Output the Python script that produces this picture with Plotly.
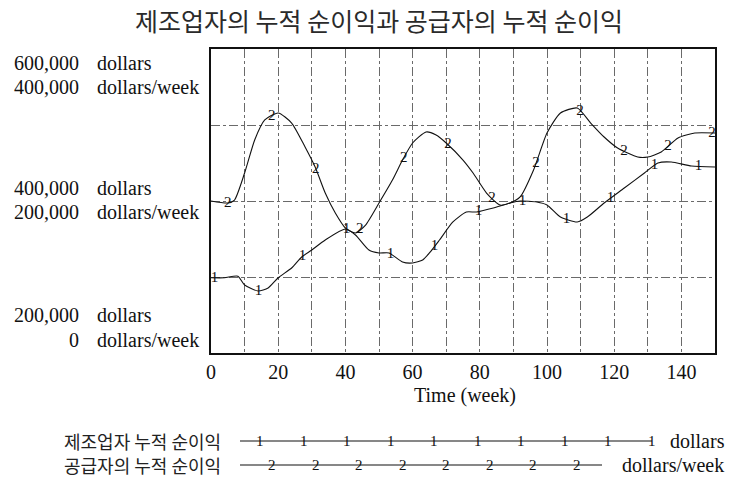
import numpy as np
import plotly.graph_objects as go

# ---------------- data ----------------
weeks_mfr = [0, 4, 8, 10, 14, 17, 20, 24, 27, 30, 34, 40, 43, 47, 50, 53, 57, 60, 63, 65,
             68, 72, 76, 79, 84, 89, 92, 97, 100, 104, 109, 112, 117, 123, 129, 133, 137, 143, 150]
mfr_profit = [299000, 299000, 301000, 289500, 281600, 285500, 299000, 311800, 326300, 335500,
              348700, 363200, 355300, 335500, 331600, 331600, 319700, 318400, 322400, 331600,
              348700, 372400, 385500, 385500, 390800, 397400, 400000, 398700, 394700, 378900,
              372400, 378900, 397400, 417100, 436800, 450000, 451300, 446000, 444700]

weeks_sup = [0, 5, 7, 10, 13, 16, 20, 24, 28, 31, 34, 37, 40, 43, 46, 50, 54, 57, 60, 64, 67,
             70, 75, 78, 82, 86, 89, 92, 96, 100, 104, 109, 113, 117, 121, 127, 130, 134, 139, 144, 150]
sup_profit = [200000, 197400, 201300, 236800, 280300, 306600, 315800, 302600, 271100, 244700,
              210500, 184200, 164500, 157900, 168400, 197400, 227600, 253900, 276300, 290800,
              286800, 276300, 253900, 236800, 210500, 194700, 197400, 205300, 240800, 289500,
              315800, 322400, 302600, 284200, 269700, 257900, 257900, 264500, 282900, 289500, 289500]

x_ticks = [0, 20, 40, 60, 80, 100, 120, 140]
title_text = "제조업자의 누적 순이익과 공급자의 누적 순이익"
x_title = "Time (week)"
series_names = ["제조업자 누적 순이익", "공급자의 누적 순이익"]
series_units = ["dollars", "dollars/week"]
y1_range = [200000, 600000]
y2_range = [0, 400000]
# axis labels: (value on axis 1, label 1, value on axis 2, label 2)
y_labels = [(600000, "600,000", 400000, "400,000"),
            (400000, "400,000", 200000, "200,000"),
            (200000, "200,000", 0, "0")]

# ---------------- layout geometry ----------------
FIG_W, FIG_H = 733, 480
L, R, T, B = 211, 715, 49, 353
PW, PH = R - L, B - T

def px(xp):
    return (xp - L) / PW

def py(yp):
    return (B - yp) / PH

SERIF = "Liberation Serif, Times New Roman, serif"
KR = "Noto Sans CJK KR, sans-serif"
INK = "#111111"

fig = go.Figure()

fig.add_trace(go.Scatter(x=weeks_mfr, y=mfr_profit, mode="lines",
                         line=dict(color=INK, width=1.1, shape="spline", smoothing=0.6),
                         yaxis="y", showlegend=False, hoverinfo="skip"))
fig.add_trace(go.Scatter(x=weeks_sup, y=sup_profit, mode="lines",
                         line=dict(color=INK, width=1.1, shape="spline", smoothing=0.6),
                         yaxis="y2", showlegend=False, hoverinfo="skip"))

# number markers along the lines (Vensim style)
m1 = np.arange(1, 150, 13.1)
m2 = np.arange(5, 150, 13.1)
fig.add_trace(go.Scatter(x=m1, y=np.interp(m1, weeks_mfr, mfr_profit), mode="text",
                         text=["1"] * len(m1), textposition="middle center",
                         textfont=dict(family=SERIF, size=15, color=INK),
                         yaxis="y", showlegend=False, hoverinfo="skip"))
fig.add_trace(go.Scatter(x=m2, y=np.interp(m2, weeks_sup, sup_profit), mode="text",
                         text=["2"] * len(m2), textposition="middle center",
                         textfont=dict(family=SERIF, size=15, color=INK),
                         yaxis="y2", showlegend=False, hoverinfo="skip"))

annotations = []
# title
annotations.append(dict(text=title_text, xref="paper", yref="paper", x=px(379), y=py(20),
                        xanchor="center", yanchor="middle", showarrow=False,
                        font=dict(family=KR, size=25, color="#2a2a2a")))
# x axis title
annotations.append(dict(text=x_title, xref="paper", yref="paper", x=px(465), y=py(395),
                        xanchor="center", yanchor="middle", showarrow=False,
                        font=dict(family=SERIF, size=20, color=INK)))
# y axis labels (two scales)
shifts = [(-14, -38), (13, -11), (38, 13)]
for (v1, t1, v2, t2), (s1, s2) in zip(y_labels, shifts):
    yy = py(B - (v1 - y1_range[0]) / (y1_range[1] - y1_range[0]) * PH)
    for txt, unit, sh in ((t1, series_units[0], s1), (t2, series_units[1], s2)):
        annotations.append(dict(text=txt, xref="paper", yref="paper", x=px(81), y=yy, yshift=sh,
                                xanchor="right", yanchor="middle", showarrow=False,
                                font=dict(family=SERIF, size=20, color=INK)))
        annotations.append(dict(text=unit, xref="paper", yref="paper", x=px(95), y=yy, yshift=sh,
                                xanchor="left", yanchor="middle", showarrow=False,
                                font=dict(family=SERIF, size=20, color=INK)))

# custom legend
shapes = []
leg_rows = [
    dict(y=441, x0=240, x1=652, marks=np.linspace(260, 652, 10), mtxt="1", unit_x=668),
    dict(y=465, x0=240, x1=602, marks=np.linspace(272, 577, 8), mtxt="2", unit_x=620),
]
for row, name, unit in zip(leg_rows, series_names, series_units):
    annotations.append(dict(text=name, xref="paper", yref="paper", x=px(223), y=py(row["y"]),
                            xanchor="right", yanchor="middle", showarrow=False,
                            font=dict(family=KR, size=18, color="#222222")))
    annotations.append(dict(text=unit, xref="paper", yref="paper", x=px(row["unit_x"]),
                            y=py(row["y"]), xanchor="left", yanchor="middle", showarrow=False,
                            font=dict(family=SERIF, size=20, color=INK)))
    shapes.append(dict(type="line", xref="paper", yref="paper", x0=px(row["x0"]), x1=px(row["x1"]),
                       y0=py(row["y"]), y1=py(row["y"]), line=dict(color=INK, width=1.1)))
    for mx in row["marks"]:
        annotations.append(dict(text=row["mtxt"], xref="paper", yref="paper", x=px(mx),
                                y=py(row["y"]), xanchor="center", yanchor="middle",
                                showarrow=False, font=dict(family=SERIF, size=15, color=INK)))

GRID = "#6a6a6a"
fig.update_layout(
    width=FIG_W, height=FIG_H,
    margin=dict(l=L, r=FIG_W - R, t=T, b=FIG_H - B, pad=0),
    paper_bgcolor="white", plot_bgcolor="white",
    showlegend=False,
    xaxis=dict(range=[0, 150], tickvals=x_ticks, ticktext=[str(v) for v in x_ticks],
               showgrid=True, gridcolor=GRID, gridwidth=1, griddash="dashdot",
               minor=dict(dtick=10, tick0=0, showgrid=True, gridcolor=GRID, gridwidth=1,
                          griddash="dashdot"),
               zeroline=False, showline=True, mirror=True, linecolor=INK, linewidth=2,
               ticks="", tickfont=dict(family=SERIF, size=20, color=INK), fixedrange=True),
    yaxis=dict(range=y1_range, dtick=100000, showgrid=True, gridcolor=GRID, gridwidth=1,
               griddash="dashdot", zeroline=False, showline=True, mirror=True,
               linecolor=INK, linewidth=2, showticklabels=False, ticks=""),
    yaxis2=dict(range=y2_range, overlaying="y", showgrid=False, zeroline=False,
                showticklabels=False, ticks="", showline=False),
    annotations=annotations,
    shapes=shapes,
)

fig.write_html("out.html")
